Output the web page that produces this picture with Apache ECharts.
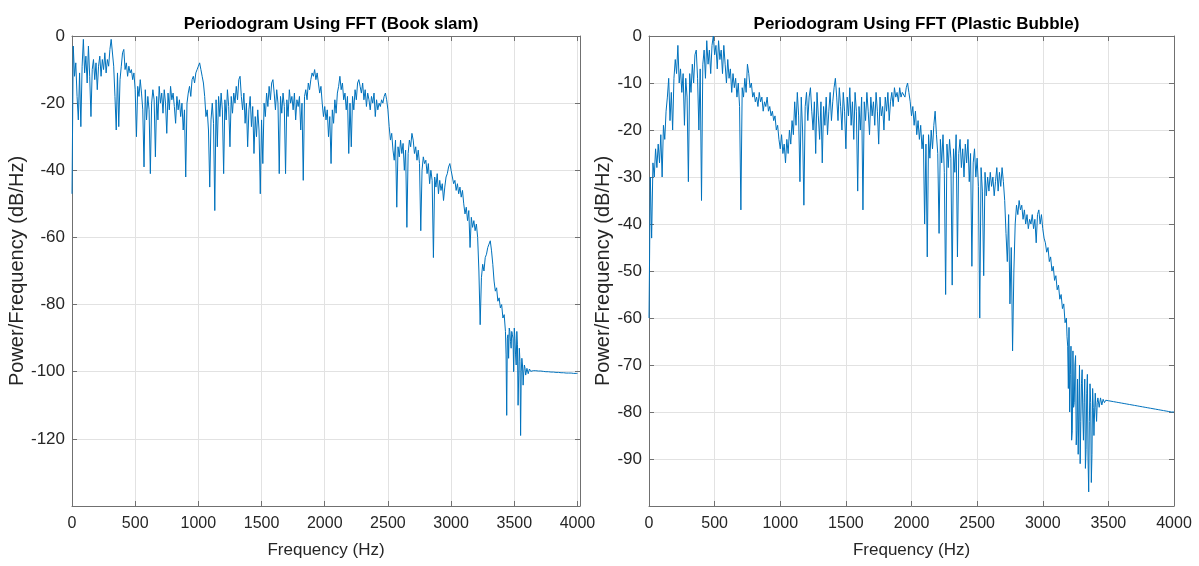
<!DOCTYPE html>
<html><head><meta charset="utf-8">
<script src="https://cdn.jsdelivr.net/npm/echarts@6/dist/echarts.min.js"></script>
<style>html,body{margin:0;padding:0;background:#fff}#c{width:1199px;height:566px}</style>
</head><body><div id="c"></div>
<script>
// Frequency grid spacing (Hz) of the sampled periodogram values below
const freqStepHz = 10;

// Periodogram (dB/Hz) of "Book slam", one value every 10 Hz from 0 to 4000 Hz
const bookSlamDb = [
-47,-3,-12,-8,-18,-25,-11,-27,-9,-1,
-11,-6,-14,-3,-12,-24,-10,-7,-13,-8,
-16,-9,-6,-12,-7,-10,-5,-11,-7,-9,
-4,-1,-0.5,-9,-18,-28,-11,-27,-13,-9,
-5,-4,-10,-8,-12,-9,-11,-10,-13,-11,
-16,-30,-15,-18,-13,-17,-22,-39,-16,-25,
-18,-22,-41,-20,-16,-19,-36,-18,-25,-15,
-20,-17,-23,-16,-20,-29,-17,-22,-15,-19,
-17,-21,-26,-18,-22,-19,-24,-20,-28,-22,
-42,-20,-17,-15,-18,-13,-12,-14,-11,-10,
-9,-8,-10,-12,-14,-18,-24,-22,-28,-45,
-25,-20,-26,-52,-19,-33,-18,-24,-17,-22,
-41,-19,-25,-16,-21,-33,-18,-23,-17,-20,
-15,-19,-13,-12,-18,-22,-17,-26,-20,-33,
-22,-18,-27,-21,-35,-24,-30,-22,-28,-47,
-25,-38,-20,-24,-17,-21,-15,-19,-14,-13,
-17,-22,-16,-20,-41,-18,-23,-17,-21,-41,
-19,-24,-16,-20,-18,-22,-17,-25,-19,-21,
-18,-28,-20,-43,-18,-16,-19,-14,-16,-13,
-11,-12,-10,-13,-11,-14,-17,-15,-20,-24,
-21,-25,-22,-30,-24,-38,-22,-26,-19,-23,
-17,-15,-12,-16,-14,-19,-17,-22,-18,-35,
-20,-33,-18,-22,-16,-19,-14,-13,-15,-17,
-14,-19,-16,-21,-17,-19,-22,-18,-20,-17,
-24,-19,-22,-20,-21,-19,-20,-18,-17,-19,
-22,-27,-31,-29,-34,-37,-31,-51,-33,-36,
-31,-35,-32,-40,-34,-57,-35,-31,-33,-29,
-31,-35,-33,-37,-34,-38,-58,-40,-36,-38,
-37,-41,-38,-44,-40,-43,-66,-42,-45,-41,
-47,-43,-46,-44,-49,-45,-42,-41,-39,-38,
-40,-42,-44,-43,-46,-44,-47,-45,-48,-46,
-50,-53,-51,-55,-52,-63,-54,-57,-55,-58,
-56,-60,-70,-86,-72,-68,-70,-66,-65,-63,
-62,-61,-64,-68,-73,-76,-75,-79,-78,-81,
-80,-84,-83,-88,-113,-89,-87,-91,-88,-90,
-87,-95,-88,-110,-93,-119,-96,-104,-98,-101,
-99,-100.6,-99.2,-99.9,-99.5,-99.7,-99.6,-99.7,-99.7,-99.8,
-99.8,-99.8,-99.9,-99.9,-99.9,-100,-100,-100,-100,-100.1,
-100.1,-100.1,-100.1,-100.2,-100.2,-100.2,-100.2,-100.3,-100.3,-100.3,
-100.3,-100.4,-100.4,-100.4,-100.4,-100.4,-100.5,-100.5,-100.5,-100.5,
-100.5
];
// Extra in-between readings of the dense noisy band (3435 Hz to 3585 Hz, every 10 Hz)
const bookSlamBandStartHz = 3435;
const bookSlamBandDb = [-95,-90,-96,-88,-93,-89,-100,-90,-98,-92,-101,-97,-100,-98,-100,-99];

// Periodogram (dB/Hz) of "Plastic Bubble", one value every 10 Hz from 0 to 4000 Hz
const plasticBubbleDb = [
-60,-30,-43,-27,-30,-24,-28,-23,-27,-21,
-30,-19,-22,-16,-13,-9,-18,-12,-20,-9,
-5,-8,-2,-10,-7,-12,-8,-19,-9,-13,
-31,-8,-12,-6,-10,-4,-3,-9,-20,-7,
-35,-6,-3,-9,-1,-6,-3,-8,-2,0,
-4,-2,-7,-1,-5,-3,-8,-2,-6,-10,
-5,-9,-7,-12,-8,-11,-9,-13,-10,-15,
-37,-11,-13,-9,-12,-6,-8,-11,-10,-13,
-12,-14,-13,-15,-12,-14,-13,-16,-14,-15,
-13,-16,-15,-17,-16,-18,-17,-20,-19,-22,
-24,-21,-25,-23,-27,-22,-25,-20,-23,-18,
-21,-14,-19,-12,-17,-31,-13,-20,-36,-15,
-12,-18,-13,-11,-16,-20,-14,-25,-12,-17,
-22,-14,-27,-15,-19,-13,-21,-16,-12,-18,
-14,-11,-9,-13,-18,-11,-15,-20,-12,-16,
-24,-13,-17,-11,-19,-14,-22,-12,-16,-33,
-15,-20,-13,-37,-14,-18,-12,-16,-21,-13,
-17,-14,-19,-12,-16,-23,-13,-17,-15,-20,
-13,-16,-12,-18,-14,-12,-15,-11,-13,-12,
-14,-11,-13,-12,-12,-13,-11,-10,-12,-14,
-17,-15,-19,-16,-21,-18,-22,-19,-24,-21,
-40,-23,-47,-21,-26,-20,-24,-19,-16,-21,
-25,-42,-22,-27,-21,-29,-55,-23,-28,-22,
-26,-53,-24,-29,-21,-47,-25,-22,-28,-24,
-30,-23,-27,-22,-31,-25,-49,-27,-24,-30,
-26,-32,-60,-28,-33,-51,-29,-34,-30,-33,
-29,-32,-30,-34,-31,-28,-33,-29,-32,-28,
-31,-35,-42,-48,-38,-57,-45,-67,-50,-40,
-36,-38,-35,-37,-36,-39,-37,-40,-38,-41,
-39,-40,-38,-41,-39,-44,-38,-37,-40,-38,
-41,-43,-44,-46,-45,-48,-47,-50,-49,-52,
-51,-54,-53,-56,-55,-58,-57,-61,-60,-66,
-62,-72,-86,-67,-78,-68,-84,-89,-70,-82,
-71,-86,-73,-88,-72,-97,-74,-95,-75,-85,
-76,-82,-77,-79,-77,-78.5,-77.3,-78,-77.5,-77.8,
-77.6,-77.7,-77.7,-77.8,-77.8,-77.9,-77.9,-78,-78,-78.1,
-78.1,-78.2,-78.2,-78.3,-78.3,-78.4,-78.4,-78.5,-78.5,-78.6,
-78.6,-78.7,-78.7,-78.8,-78.8,-78.9,-78.9,-79,-79,-79.1,
-79.1,-79.2,-79.2,-79.3,-79.3,-79.4,-79.4,-79.5,-79.5,-79.6,
-79.6,-79.7,-79.7,-79.8,-79.8,-79.9,-79.9,-79.9,-80,-80,
-80
];
// Extra in-between readings of the dense noisy band (3185 Hz to 3415 Hz, every 10 Hz)
const plasticBubbleBandStartHz = 3185;
const plasticBubbleBandDb = [-64,-75,-80,-66,-84,-79,-70,-87,-73,-80,-91,-74,-80,-78,-92,-76,-90,-82,-78,-89,-79,-80,-79,-78];

const titles = ['Periodogram Using FFT (Book slam)', 'Periodogram Using FFT (Plastic Bubble)'];
const xName = 'Frequency (Hz)';
const yName = 'Power/Frequency (dB/Hz)';

const SANS = '"Liberation Sans",Arial,Helvetica,sans-serif';
const AX = '#707070', TXT = '#262626', GRID = '#e2e2e2', LINE = '#0072BD';

function toPairs(arr, bandStart, band) {
  const pts = arr.map((v, i) => [i * freqStepHz, v]);
  band.forEach((v, j) => pts.push([bandStart + j * freqStepHz, v]));
  return pts.sort((a, b) => a[0] - b[0]);
}

const grids = [
  {left: 72, top: 36, width: 508, height: 470},
  {left: 649, top: 36, width: 525, height: 470}
];
const xMax = [4020, 4000];
const yCfg = [{min: -140, interval: 20}, {min: -100, interval: 10}];
const yNameGap = [37, 30];

const xAxes = [], yAxes = [];
grids.forEach((g, k) => {
  const tickIn = {show: true, inside: true, length: 5, lineStyle: {color: AX}};
  const line = {show: true, onZero: false, lineStyle: {color: AX, width: 1}};
  xAxes.push({
    gridIndex: k, type: 'value', min: 0, max: xMax[k], interval: 500, position: 'bottom',
    axisLine: line, axisTick: tickIn,
    axisLabel: {color: TXT, fontSize: 16, fontFamily: SANS, margin: 10, showMaxLabel: xMax[k] === 4000,
                formatter: v => String(v)},
    splitLine: {show: true, lineStyle: {color: GRID, width: 1}},
    name: xName, nameLocation: 'middle', nameGap: 36,
    nameTextStyle: {color: TXT, fontSize: 17, fontFamily: SANS}
  });
  xAxes.push({
    gridIndex: k, type: 'value', min: 0, max: xMax[k], interval: 500, position: 'top',
    axisLine: line, axisTick: tickIn, axisLabel: {show: false}, splitLine: {show: false}
  });
  yAxes.push({
    gridIndex: k, type: 'value', min: yCfg[k].min, max: 0, interval: yCfg[k].interval, position: 'left',
    axisLine: line, axisTick: tickIn,
    axisLabel: {color: TXT, fontSize: 17, fontFamily: SANS, margin: 7, showMinLabel: false,
                formatter: v => String(v)},
    splitLine: {show: true, lineStyle: {color: GRID, width: 1}},
    name: yName, nameLocation: 'middle', nameGap: yNameGap[k],
    nameTextStyle: {color: TXT, fontSize: 20, fontFamily: SANS}
  });
  yAxes.push({
    gridIndex: k, type: 'value', min: yCfg[k].min, max: 0, interval: yCfg[k].interval, position: 'right',
    axisLine: line, axisTick: tickIn, axisLabel: {show: false}, splitLine: {show: false}
  });
});

const chart = echarts.init(document.getElementById('c'), null, {renderer: 'canvas'});
chart.setOption({
  animation: false,
  backgroundColor: '#ffffff',
  title: titles.map((t, k) => ({
    text: t, left: grids[k].left + grids[k].width / 2, top: 11, textAlign: 'center',
    textStyle: {fontSize: 17, fontWeight: 'bold', color: '#000', fontFamily: SANS}
  })),
  grid: grids,
  xAxis: xAxes,
  yAxis: yAxes,
  series: [
    {type: 'line', xAxisIndex: 0, yAxisIndex: 0,
     data: toPairs(bookSlamDb, bookSlamBandStartHz, bookSlamBandDb),
     showSymbol: false, symbol: 'none', sampling: null,
     lineStyle: {color: LINE, width: 1}, itemStyle: {color: LINE}},
    {type: 'line', xAxisIndex: 2, yAxisIndex: 2,
     data: toPairs(plasticBubbleDb, plasticBubbleBandStartHz, plasticBubbleBandDb),
     showSymbol: false, symbol: 'none', sampling: null,
     lineStyle: {color: LINE, width: 1}, itemStyle: {color: LINE}}
  ]
});
</script></body></html>
